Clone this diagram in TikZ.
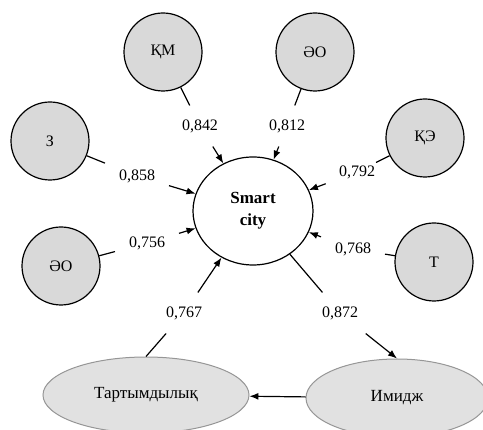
\documentclass[tikz,border=0pt]{standalone}
\usepackage{fontspec}
\setmainfont{Liberation Serif}
\usepackage{tikz}
\usetikzlibrary{shapes.geometric,arrows.meta,positioning}
\definecolor{factorgray}{RGB}{217,217,217}
\definecolor{ovalgray}{RGB}{225,225,225}
\definecolor{ovalline}{RGB}{150,150,150}

\begin{document}
\begin{tikzpicture}[
    x=1pt, y=-1pt,
    factor/.style={circle, draw, line width=1.2pt, fill=factorgray, minimum size=78pt, inner sep=0pt, font=\fontsize{16}{18}\selectfont},
    core/.style={ellipse, draw, line width=1.2pt, fill=white, minimum width=120pt, minimum height=108pt, align=center, font=\fontsize{17}{22}\selectfont\bfseries},
    oval/.style={ellipse, draw=ovalline, line width=1pt, fill=ovalgray, font=\fontsize{17}{19}\selectfont},
    weight/.style={rectangle, inner sep=0pt, outer sep=14pt, font=\fontsize{16}{18}\selectfont},
    link/.style={line width=1.2pt},
    arrow/.style={-{Latex[length=9pt,width=7pt]}, line width=1.2pt}
]
\useasboundingbox (0,0) rectangle (483,430);

% central construct
\node[core] (sc) at (253,211) {Smart\\city};

% factors
\node[factor] (km) at (163,52) {ҚМ};
\node[factor] (ao1) at (315,52) {ӘО};
\node[factor] (z) at (50,141) {З};
\node[factor] (ao2) at (61,266) {ӘО};
\node[factor] (ke) at (425,138) {ҚЭ};
\node[factor] (t) at (434,262) {Т};
\node[oval, minimum width=206pt, minimum height=76pt] (tart) at (146,395) {Тартымдылық};
\node[oval, minimum width=182pt, minimum height=78pt] (im) at (397,398) {Имидж};

% loadings
\node[weight] (w1) at (200,126) {0,842};
\node[weight] (w2) at (287,126) {0,812};
\node[weight] (w3) at (137,176) {0,858};
\node[weight] (w4) at (147,243) {0,756};
\node[weight, outer sep=3pt] (w5) at (357,172) {0,792};
\node[weight] (w6) at (353,249) {0,768};
\node[weight] (w7) at (184,313) {0,767};
\node[weight] (w8) at (340,313) {0,872};

\draw[link] (km) -- (w1);
\draw[arrow] (w1) -- (sc);
\draw[link] (ao1) -- (w2);
\draw[arrow] (w2) -- (sc);
\draw[link] (z) -- (w3);
\draw[arrow] (w3) -- (sc);
\draw[link] (ao2) -- (w4);
\draw[arrow] (w4) -- (sc);
\draw[link] (ke) -- (w5);
\draw[arrow, shorten <=11pt] (w5) -- (sc);
\draw[link] (t) -- (w6);
\draw[arrow] (w6) -- (sc);
\draw[link] (tart.north) -- (w7);
\draw[arrow] (w7) -- (sc);
\draw[link] (sc) -- (w8);
\draw[arrow] (w8) -- (im.north);
\draw[arrow] (im) -- (tart);
\end{tikzpicture}
\end{document}
